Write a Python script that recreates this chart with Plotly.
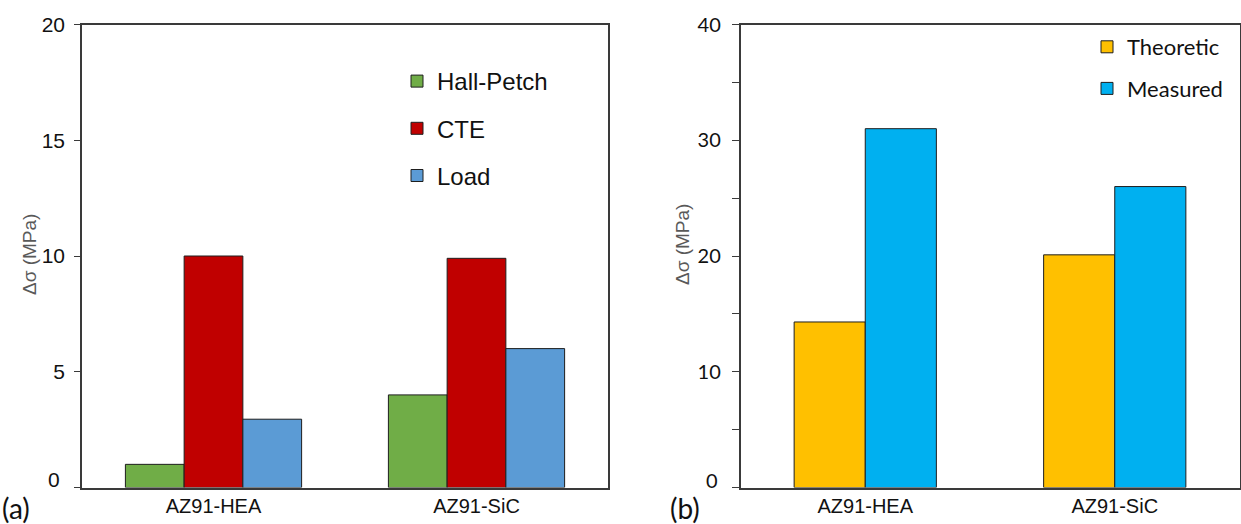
import plotly.graph_objects as go

# Panel (a): strengthening contributions
categories = ["AZ91-HEA", "AZ91-SiC"]
hall_petch = [1.0, 4.0]
cte = [10.0, 9.9]
load = [2.95, 6.0]

# Panel (b): theoretic vs measured strengthening
theoretic = [14.3, 20.1]
measured = [31.0, 26.0]

W, H = 1241, 524

def px_x(v):
    return v / W

def px_y(v):
    return 1 - v / H

fig = go.Figure()

bar_line = dict(color="#1e1e1e", width=1)

# three bars per group in panel (a), two per group in panel (b)
series_a = [("Hall-Petch", hall_petch, "#70AD47"),
            ("CTE", cte, "#C00000"),
            ("Load", load, "#5B9BD5")]
wa = 0.67 / 3
for i, (name, vals, col) in enumerate(series_a):
    fig.add_trace(go.Bar(x=categories, y=vals, name=name, marker=dict(color=col, line=bar_line),
                         width=wa, offset=-0.335 + i * wa,
                         xaxis="x", yaxis="y", legend="legend", legendgroup=name))

series_b = [("Theoretic", theoretic, "#FFC000"),
            ("Measured", measured, "#00B0F0")]
wb = 0.57 / 2
for i, (name, vals, col) in enumerate(series_b):
    fig.add_trace(go.Bar(x=categories, y=vals, name=name, marker=dict(color=col, line=bar_line),
                         width=wb, offset=-0.285 + i * wb,
                         xaxis="x2", yaxis="y2", legend="legend2", legendgroup=name))

frame = dict(showline=True, linecolor="#3a3a3a", linewidth=1.5, mirror=True, automargin=False)
arial = "Liberation Sans, Arial"
lato = "Lato"

y_dom = [px_y(487.5), px_y(24.5)]

fig.update_layout(
    template="none",
    width=W, height=H,
    margin=dict(l=0, r=0, t=0, b=0, pad=0),
    paper_bgcolor="white", plot_bgcolor="white",
    barmode="overlay",
    xaxis=dict(domain=[px_x(82), px_x(608)], **frame, ticks="", showgrid=False,
               tickfont=dict(family=arial, size=20, color="#111"), ticklabelstandoff=0),
    yaxis=dict(domain=y_dom, range=[0, 20], **frame, showgrid=False, zeroline=False,
               tickvals=[0, 5, 10, 15, 20], ticktext=["", "5", "10", "15", "20"],
               ticks="outside", ticklen=6, tickwidth=1.2, tickcolor="#3a3a3a",
               tickfont=dict(family=arial, size=21, color="#111"), ticklabelstandoff=5),
    xaxis2=dict(domain=[px_x(740.5), px_x(1239.5)], anchor="y2", **frame, ticks="", showgrid=False,
                tickfont=dict(family=arial, size=20, color="#111"), ticklabelstandoff=0),
    yaxis2=dict(domain=y_dom, anchor="x2", range=[0, 40], **frame, showgrid=False, zeroline=False,
                tickvals=[0, 10, 20, 30, 40], ticktext=["", "10", "20", "30", "40"],
                ticks="outside", ticklen=7, tickwidth=1.2, tickcolor="#3a3a3a",
                minor=dict(tickvals=[5, 15, 25, 35], ticks="outside", ticklen=7,
                           tickwidth=1.2, tickcolor="#3a3a3a"),
                tickfont=dict(family=lato, size=20, color="#111"), ticklabelstandoff=7),
    legend=dict(x=px_x(397), y=px_y(59), xanchor="left", yanchor="top",
                font=dict(family=arial, size=24, color="#111"),
                bgcolor="rgba(0,0,0,0)", tracegroupgap=13, itemwidth=30),
    legend2=dict(x=px_x(1087), y=px_y(26), xanchor="left", yanchor="top",
                 font=dict(family=lato, size=22, color="#111"),
                 bgcolor="rgba(0,0,0,0)", tracegroupgap=10, itemwidth=30),
    showlegend=True,
)

annotations = [
    dict(text="(a)", x=px_x(0), y=px_y(508), xref="paper", yref="paper", xanchor="left",
         yanchor="middle", showarrow=False, font=dict(family=lato, size=28, color="#111")),
    dict(text="(b)", x=px_x(668), y=px_y(508), xref="paper", yref="paper", xanchor="left",
         yanchor="middle", showarrow=False, font=dict(family=lato, size=28, color="#111")),
    dict(text="Δσ (MPa)", x=px_x(29), y=px_y(255), xref="paper", yref="paper", textangle=-90,
         xanchor="center", yanchor="middle",
         showarrow=False, font=dict(family=arial, size=19, color="#595959")),
    dict(text="Δσ (MPa)", x=px_x(682), y=px_y(245), xref="paper", yref="paper", textangle=-90,
         xanchor="center", yanchor="middle",
         showarrow=False, font=dict(family=arial, size=19, color="#595959")),
    dict(text="0", x=px_x(62), y=0, xref="paper", yref="y", xanchor="right", yanchor="middle",
         yshift=8, showarrow=False, font=dict(family=arial, size=21, color="#111")),
    dict(text="0", x=px_x(720), y=0, xref="paper", yref="y2", xanchor="right", yanchor="middle",
         yshift=8, showarrow=False, font=dict(family=lato, size=20, color="#111")),
]
fig.update_layout(annotations=annotations)

fig.write_html("out.html")
